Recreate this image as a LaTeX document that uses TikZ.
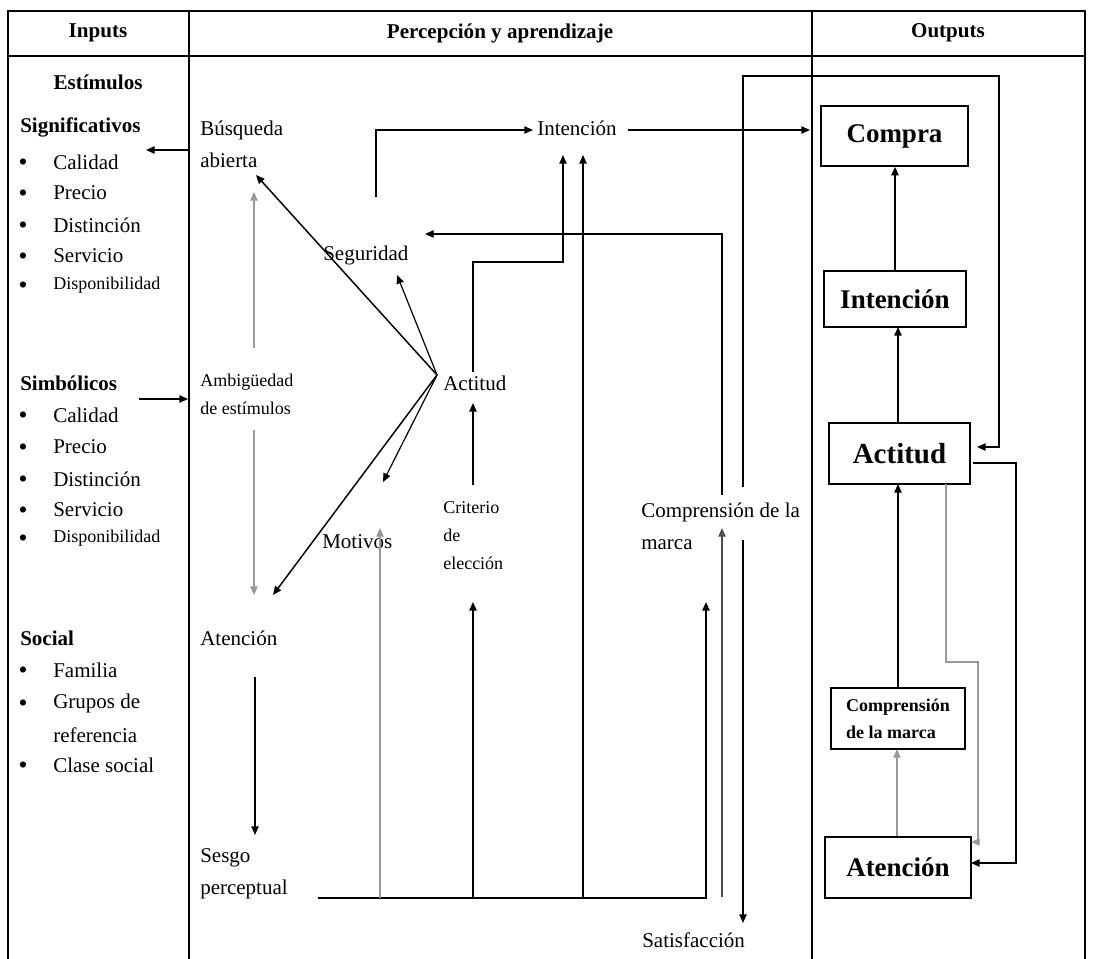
\documentclass[tikz,border=0pt]{standalone}
\usepackage{fontspec}
\setmainfont{Liberation Serif}
\usetikzlibrary{arrows.meta}
\tikzset{
  frame/.style={line width=1.5pt},
  ln/.style={line width=1.1pt},
  gln/.style={line width=0.9pt, draw=black!35},
  arr/.style={ln, -{Triangle[length=6.5pt,width=5.5pt]}},
  garr/.style={gln, -{Triangle[length=6.5pt,width=5.5pt]}, draw=black!40},
  txt/.style={inner sep=0pt, anchor=west, align=left, font=\fontsize{15.75pt}{24pt}\selectfont},
  sml/.style={inner sep=0pt, anchor=west, align=left, font=\fontsize{13.5pt}{21pt}\selectfont},
  hdr/.style={inner sep=0pt, font=\fontsize{15.8pt}{19pt}\selectfont\bfseries},
  bhd/.style={inner sep=0pt, anchor=west, font=\fontsize{15.75pt}{19pt}\selectfont\bfseries},
  bul/.style={inner sep=0pt, font=\fontsize{17pt}{18pt}\selectfont\bfseries},
  obox/.style={draw, line width=1.2pt, inner sep=0pt, font=\fontsize{20.25pt}{24pt}\selectfont\bfseries},
}
\begin{document}
\begin{tikzpicture}[x=0.75pt,y=-0.75pt]
\useasboundingbox (0,0) rectangle (1093,959);
% frame
\draw[frame] (8,959) -- (8,11) -- (1085,11) -- (1085,959);
\draw[frame] (8,56) -- (1085,56);
\draw[frame] (189,11) -- (189,959);
\draw[frame] (812,11) -- (812,959);
% headers
\node[hdr] (hIn) at (98,33) {Inputs};
\node[hdr] (hPe) at (500,33) {Percepción y aprendizaje};
\node[hdr] (hOut) at (948,33) {Outputs};
% left column
\node[hdr] (estim) at (98,82) {Estímulos};
\node[bhd] (signif) at (20,127) {Significativos};
\foreach \y/\t/\s in {162/Calidad/txt,193/Precio/txt,225/Distinción/txt,256/Servicio/txt,285/Disponibilidad/sml}{
  \node[bul] at (23,\y+2) {•};
  \node[\s] at (53,\y) {\t};
}
\node[bhd] (simb) at (20,383) {Simbólicos};
\foreach \y/\t/\s in {415/Calidad/txt,447/Precio/txt,479/Distinción/txt,510/Servicio/txt,538/Disponibilidad/sml}{
  \node[bul] at (23,\y+2) {•};
  \node[\s] at (53,\y) {\t};
}
\node[bhd] (social) at (20,638) {Social};
\foreach \y in {670,703,765}{
  \node[bul] at (23,\y+2) {•};
}
\node[txt] at (53,670) {Familia};
\node[txt] at (53,703) {Grupos de};
\node[txt] at (53,735) {referencia};
\node[txt] at (53,765) {Clase social};
% middle column texts
\node[txt] (busq) at (200,144) {Búsqueda\\abierta};
\node[txt] (segur) at (323,255) {Seguridad};
\node[txt] (intM) at (537,128) {Intención};
\node[sml] (amb) at (200,394) {Ambigüedad\\de estímulos};
\node[txt] (actM) at (443,383) {Actitud};
\node[txt] (motiv) at (322,542) {Motivos};
\node[sml] (crit) at (443,536) {Criterio\\de\\elección};
\node[txt] (compM) at (641,526) {Comprensión de la\\marca};
\node[txt] (atenM) at (200,638) {Atención};
\node[txt] (sesgo) at (200,874) {Sesgo\\perceptual};
\node[txt] (satis) at (642,940) {Satisfacción};
% right column boxes
\node[obox, minimum width=110.25pt, minimum height=45pt] (compraB) at (894.5,136) {Compra};
\node[obox, minimum width=106.5pt, minimum height=42pt] (intB) at (895,299) {Intención};
\node[obox, minimum width=105.75pt, minimum height=45.75pt, font=\fontsize{21.75pt}{24pt}\selectfont\bfseries] (actB) at (899.5,453.5) {Actitud};
\node[obox, minimum width=100.5pt, minimum height=45.75pt, align=left, font=\fontsize{13.5pt}{20pt}\selectfont\bfseries] (compB) at (898,718.5) {Comprensión\\de la marca};
\node[obox, minimum width=109.5pt, minimum height=45.75pt] (atB) at (898,867.5) {Atención};
% coordinates
\coordinate (A) at (437,375);
\coordinate (busqIn) at (256,175);
\coordinate (segIn) at (397,275);
\coordinate (motIn) at (383,482);
\coordinate (atIn) at (273,595);
% left-middle arrows
\draw[arr] (189,150) -- (146,150);
\draw[arr] (139,399) -- (188,399);
\draw[garr] (254,348) -- (254,192);
\draw[garr] (254,430) -- (254,595);
\draw[arr] (255,677) -- (255,835);
% from Actitud point
\draw[arr] (A) -- (busqIn);
\draw[arr, line width=0.9pt] (A) -- (segIn);
\draw[arr, line width=0.9pt] (A) -- (motIn);
\draw[arr] (A) -- (atIn);
% intention paths
\draw[arr] (376,197) -- (376,130) -- (533,130);
\draw[arr] (628,130) -- (810,130);
\draw[arr] (473,372) -- (473,262) -- (563,262) -- (563,155);
\draw[arr] (473,485) -- (473,403);
% sesgo bottom line
\draw[arr] (318,898) -- (706,898) -- (706,602);
\draw[garr] (380,898) -- (380,528);
\draw[arr] (473,898) -- (473,602);
\draw[arr] (583,898) -- (583,155);
\draw[arr, draw=black!70] (722,897) -- (722,528);
\draw[arr] (722,495) -- (722,234) -- (425,234);
\draw[arr] (743,487) -- (743,76) -- (999,76) -- (999,447) -- (977,447);
\draw[arr] (743,540) -- (743,923);
% right column
\draw[arr] (intB.north) -- (compraB.south -| intB.north);
\draw[arr] (actB.north -| 898,0) -- (898,327);
\draw[arr] (compB.north) -- (898,484);
\draw[garr] (atB.north -| 897,0) -- (897,749);
\draw[arr] (973,463) -- (1016,463) -- (1016,863) -- (971,863);
\draw[garr] (946,484) -- (946,662) -- (978,662) -- (978,842) -- (971,842);
\end{tikzpicture}
\end{document}
